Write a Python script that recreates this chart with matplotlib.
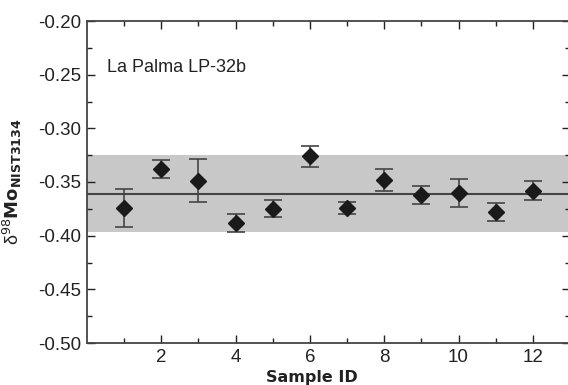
import matplotlib
matplotlib.use('Agg')
import matplotlib.pyplot as plt
from matplotlib.ticker import MultipleLocator, FixedLocator, FormatStrFormatter

plt.rcParams['font.family'] = ['Liberation Sans', 'DejaVu Sans']

# values
sample_id = [1, 2, 3, 4, 5, 6, 7, 8, 9, 10, 11, 12]
d98mo = [-0.374, -0.338, -0.349, -0.388, -0.375, -0.326,
         -0.3745, -0.348, -0.362, -0.360, -0.378, -0.358]
err = [0.0175, 0.0085, 0.020, 0.0085, 0.008, 0.010,
       0.0055, 0.010, 0.0085, 0.013, 0.008, 0.009]
mean_val = -0.361
band_lo, band_hi = -0.397, -0.325
x_ticks = [2, 4, 6, 8, 10, 12]
label = 'La Palma LP-32b'

fig = plt.figure(figsize=(5.68, 3.85), dpi=100)
ax = fig.add_axes([87/568, 42/385, 483/568, 322/385])

ax.axhspan(band_lo, band_hi, color='#c8c8c8', lw=0, zorder=0)
ax.axhline(mean_val, color='#444444', lw=1.5, zorder=1)
ax.errorbar(sample_id, d98mo, yerr=err, fmt='D', color='#1a1a1a',
            ms=8, ecolor='#444444', elinewidth=1.2, capsize=6.4,
            capthick=1.2, zorder=3)

ax.set_xlim(0, 13)
ax.set_ylim(-0.50, -0.20)
ax.xaxis.set_major_locator(FixedLocator(x_ticks))
ax.xaxis.set_minor_locator(FixedLocator([1, 3, 5, 7, 9, 11]))
ax.yaxis.set_major_locator(MultipleLocator(0.05))
ax.yaxis.set_minor_locator(MultipleLocator(0.025))
ax.yaxis.set_major_formatter(FormatStrFormatter('%.2f'))
ax.tick_params(which='both', direction='in', top=True, right=True,
               colors='#222222', labelsize=13.5, width=1.0)
ax.tick_params(which='major', length=6, pad=4)
ax.tick_params(which='minor', length=3.5)
for s in ax.spines.values():
    s.set_color('#444444')
    s.set_linewidth(1.3)

ax.text(0.042, 0.855, label, transform=ax.transAxes, fontsize=13,
        color='#222222', va='center')

ax.set_xlabel('Sample ID', fontsize=11.5, fontweight='bold',
              family='DejaVu Sans', color='#222222', va='top')
ax.xaxis.set_label_coords(0.465, -0.085)
ax.set_ylabel('δ$^{98}$$\\mathbf{Mo}_{\\mathbf{NIST3134}}$', fontsize=13,
              color='#222222')
ax.yaxis.set_label_coords(-0.13, 0.5)

plt.savefig('out.png', dpi=100)
